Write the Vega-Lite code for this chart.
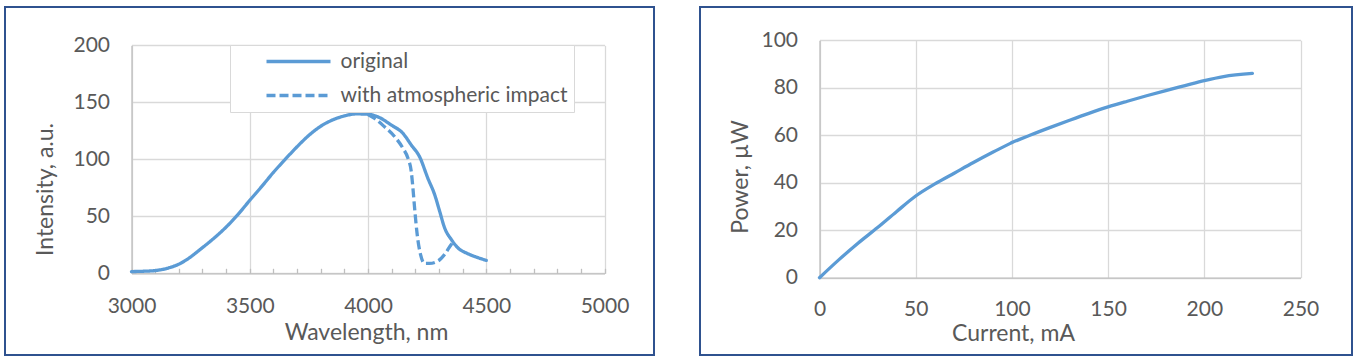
{
  "$schema": "https://vega.github.io/schema/vega-lite/v6.json",
  "padding": {"left": 4, "top": 6, "right": 0, "bottom": 0},
  "spacing": 44,
  "background": "white",
  "config": {
    "view": {"stroke": "#2f528f", "strokeWidth": 2},
    "font": "Lato",
    "axis": {
      "labelFont": "Lato", "titleFont": "Lato", "labelFontSize": 21, "titleFontSize": 23,
      "titleFontWeight": "normal", "labelColor": "#595959", "titleColor": "#595959",
      "domainColor": "#bfbfbf", "domainWidth": 1.3, "gridColor": "#d9d9d9", "gridWidth": 1.3, "tickColor": "#bfbfbf",
      "tickWidth": 1.3, "labelOverlap": false, "labelFlush": false
    },
    "legend": {"labelFont": "Lato", "labelFontSize": 21, "labelColor": "#595959", "labelLimit": 500}
  },
  "hconcat": [
    {
      "width": 649,
      "height": 348,
      "data": {"values": [
        {"series": "original", "wavelength": 3000, "intensity": 1.5},
        {"series": "original", "wavelength": 3050, "intensity": 1.8},
        {"series": "original", "wavelength": 3100, "intensity": 2.4},
        {"series": "original", "wavelength": 3150, "intensity": 4.3},
        {"series": "original", "wavelength": 3200, "intensity": 8},
        {"series": "original", "wavelength": 3230, "intensity": 11.5},
        {"series": "original", "wavelength": 3300, "intensity": 22.5},
        {"series": "original", "wavelength": 3350, "intensity": 31},
        {"series": "original", "wavelength": 3400, "intensity": 40.5},
        {"series": "original", "wavelength": 3450, "intensity": 51.5},
        {"series": "original", "wavelength": 3500, "intensity": 64},
        {"series": "original", "wavelength": 3550, "intensity": 76},
        {"series": "original", "wavelength": 3600, "intensity": 88.5},
        {"series": "original", "wavelength": 3650, "intensity": 100},
        {"series": "original", "wavelength": 3700, "intensity": 111},
        {"series": "original", "wavelength": 3750, "intensity": 121},
        {"series": "original", "wavelength": 3800, "intensity": 129},
        {"series": "original", "wavelength": 3850, "intensity": 134.5},
        {"series": "original", "wavelength": 3900, "intensity": 138},
        {"series": "original", "wavelength": 3950, "intensity": 139.8},
        {"series": "original", "wavelength": 4000, "intensity": 139.5},
        {"series": "original", "wavelength": 4042, "intensity": 137.2},
        {"series": "original", "wavelength": 4099, "intensity": 130},
        {"series": "original", "wavelength": 4148, "intensity": 122.7},
        {"series": "original", "wavelength": 4183, "intensity": 112.5},
        {"series": "original", "wavelength": 4218, "intensity": 102.3},
        {"series": "original", "wavelength": 4253, "intensity": 83.4},
        {"series": "original", "wavelength": 4282, "intensity": 68.9},
        {"series": "original", "wavelength": 4303, "intensity": 54.4},
        {"series": "original", "wavelength": 4324, "intensity": 39.8},
        {"series": "original", "wavelength": 4352, "intensity": 29.7},
        {"series": "original", "wavelength": 4380, "intensity": 22.4},
        {"series": "original", "wavelength": 4422, "intensity": 17.2},
        {"series": "original", "wavelength": 4465, "intensity": 13.7},
        {"series": "original", "wavelength": 4500, "intensity": 11.3},
        {"series": "with atmospheric impact", "wavelength": 4000, "intensity": 139.3},
        {"series": "with atmospheric impact", "wavelength": 4028, "intensity": 135.8},
        {"series": "with atmospheric impact", "wavelength": 4070, "intensity": 128.5},
        {"series": "with atmospheric impact", "wavelength": 4113, "intensity": 119.8},
        {"series": "with atmospheric impact", "wavelength": 4148, "intensity": 109.6},
        {"series": "with atmospheric impact", "wavelength": 4169, "intensity": 100.9},
        {"series": "with atmospheric impact", "wavelength": 4183, "intensity": 89.2},
        {"series": "with atmospheric impact", "wavelength": 4190, "intensity": 74.7},
        {"series": "with atmospheric impact", "wavelength": 4197, "intensity": 57.3},
        {"series": "with atmospheric impact", "wavelength": 4208, "intensity": 34},
        {"series": "with atmospheric impact", "wavelength": 4222, "intensity": 16.6},
        {"series": "with atmospheric impact", "wavelength": 4239, "intensity": 8.7},
        {"series": "with atmospheric impact", "wavelength": 4260, "intensity": 8.7},
        {"series": "with atmospheric impact", "wavelength": 4296, "intensity": 10.8},
        {"series": "with atmospheric impact", "wavelength": 4324, "intensity": 16.6},
        {"series": "with atmospheric impact", "wavelength": 4352, "intensity": 25.3},
        {"series": "with atmospheric impact", "wavelength": 4360, "intensity": 27.5}
      ]},
      "layer": [
        {
          "transform": [{"filter": "datum.series === 'original'"}],
          "mark": {"type": "line", "color": "#5b9bd5", "strokeWidth": 3.3, "strokeCap": "round", "interpolate": "monotone"},
          "encoding": {
            "x": {
              "field": "wavelength", "type": "quantitative",
              "scale": {"domain": [3000, 5000], "range": [126.5, 599.5], "nice": false, "zero": false},
              "axis": {
                "orient": "bottom", "offset": -81.7, "title": "Wavelength, nm", "grid": false,
                "values": [3000, 3100, 3200, 3300, 3400, 3500, 3600, 3700, 3800, 3900, 4000, 4100, 4200, 4300, 4400, 4500, 4600, 4700, 4800, 4900, 5000],
                "format": "d", "labelExpr": "datum.value % 500 === 0 ? datum.label : ''",
                "tickSize": -5, "labelPadding": 26.8,
                "titleX": 361, "titleY": 65.7, "titleBaseline": "alphabetic"
              }
            },
            "y": {
              "field": "intensity", "type": "quantitative",
              "scale": {"domain": [0, 200], "range": [266.3, 38.3], "nice": false},
              "axis": {
                "orient": "left", "offset": -126.5, "values": [0, 50, 100, 150, 200], "title": "Intensity, a.u.",
                "ticks": false, "labelPadding": 22, "grid": true,
                "titleX": -79.5, "titleY": 182, "titleBaseline": "alphabetic", "titleAngle": 270
              }
            },
            "strokeDash": {
              "field": "series", "type": "nominal",
              "scale": {"domain": ["original", "with atmospheric impact"], "range": [[1, 0], [9, 4]]},
              "legend": {
                "title": null, "orient": "none", "legendX": 225, "legendY": 38,
                "symbolType": "stroke", "symbolSize": 4096, "symbolStrokeWidth": 3.3, "symbolStrokeColor": "#5b9bd5",
                "clipHeight": 21, "rowPadding": 12, "padding": 6, "symbolOffset": 28.5, "labelOffset": 8,
                "strokeColor": "#d9d9d9", "fillColor": "white"
              }
            }
          }
        },
        {
          "transform": [{"filter": "datum.series === 'with atmospheric impact'"}],
          "mark": {"type": "line", "color": "#5b9bd5", "strokeWidth": 3.3, "strokeCap": "butt", "interpolate": "monotone"},
          "encoding": {
            "x": {
              "field": "wavelength", "type": "quantitative",
              "axis": {"orient": "top", "grid": true, "labels": false, "ticks": false, "domain": false, "title": null, "values": [3000, 3500, 4000, 4500, 5000]}
            },
            "y": {"field": "intensity", "type": "quantitative"},
            "strokeDash": {"field": "series", "type": "nominal"}
          }
        }
      ],
      "resolve": {"axis": {"x": "independent"}}
    },
    {
      "width": 652,
      "height": 348,
      "data": {"values": [
        {"current": 0, "power": 0},
        {"current": 10, "power": 7.5},
        {"current": 20, "power": 14.5},
        {"current": 30, "power": 21},
        {"current": 40, "power": 27.8},
        {"current": 50, "power": 34.4},
        {"current": 60, "power": 39.5},
        {"current": 70, "power": 44},
        {"current": 80, "power": 48.5},
        {"current": 90, "power": 52.8},
        {"current": 100, "power": 56.9},
        {"current": 110, "power": 60.2},
        {"current": 120, "power": 63.3},
        {"current": 130, "power": 66.3},
        {"current": 140, "power": 69.2},
        {"current": 150, "power": 71.9},
        {"current": 160, "power": 74.3},
        {"current": 170, "power": 76.6},
        {"current": 180, "power": 78.8},
        {"current": 190, "power": 80.9},
        {"current": 200, "power": 83},
        {"current": 210, "power": 84.7},
        {"current": 225, "power": 86}
      ]},
      "layer": [
        {
          "transform": [{"filter": "datum.current <= 100"}],
          "mark": {"type": "line", "color": "#5b9bd5", "strokeWidth": 3.3, "strokeCap": "round", "interpolate": "monotone"},
          "encoding": {
            "x": {
              "field": "current", "type": "quantitative",
              "scale": {"domain": [0, 250], "range": [119.5, 600.5], "nice": false, "zero": false},
              "axis": {
                "orient": "bottom", "offset": -77.3, "title": "Current, mA", "grid": false,
                "values": [0, 50, 100, 150, 200, 250], "ticks": false, "labelPadding": 21,
                "titleX": 313, "titleY": 62.8, "titleBaseline": "alphabetic"
              }
            },
            "y": {
              "field": "power", "type": "quantitative",
              "scale": {"domain": [0, 100], "range": [270.7, 33.2], "nice": false},
              "axis": {
                "orient": "left", "offset": -119.5, "values": [0, 20, 40, 60, 80, 100], "title": "Power, µW",
                "ticks": false, "labelPadding": 22, "grid": true,
                "titleX": -72.5, "titleY": 169.5, "titleBaseline": "alphabetic", "titleAngle": 270
              }
            }
          }
        },
        {
          "transform": [{"filter": "datum.current >= 100"}],
          "mark": {"type": "line", "color": "#5b9bd5", "strokeWidth": 3.3, "strokeCap": "round", "interpolate": "monotone"},
          "encoding": {
            "x": {
              "field": "current", "type": "quantitative",
              "axis": {"orient": "top", "grid": true, "labels": false, "ticks": false, "domain": false, "title": null, "values": [0, 50, 100, 150, 200, 250]}
            },
            "y": {"field": "power", "type": "quantitative"}
          }
        }
      ],
      "resolve": {"axis": {"x": "independent"}}
    }
  ]
}
